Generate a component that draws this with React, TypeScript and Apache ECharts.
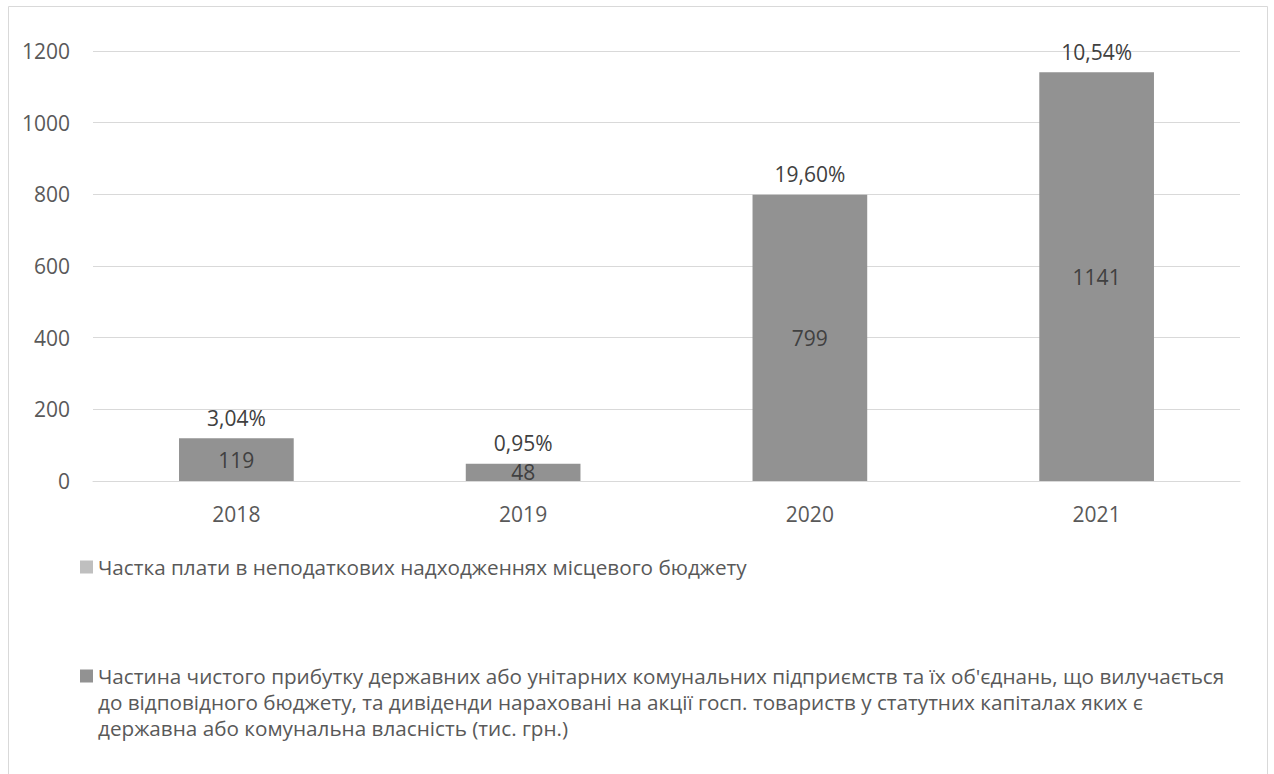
import React, { useEffect, useRef } from "react";
import * as echarts from "echarts";

const years = ["2018", "2019", "2020", "2021"];
const profitValues = [119, 48, 799, 1141];
const shareLabels = ["3,04%", "0,95%", "19,60%", "10,54%"];
const yTicks = { min: 0, max: 1200, interval: 200 };

const shareName = "Частка плати в неподаткових надходженнях місцевого бюджету";
const profitName =
  "Частина чистого прибутку державних або унітарних комунальних підприємств та їх об'єднань, що вилучається до відповідного бюджету, та дивіденди нараховані на акції госп. товариств у статутних капіталах яких є державна або комунальна власність (тис. грн.)";
const profitNameLines = [
  "Частина чистого прибутку державних або унітарних комунальних підприємств та їх об'єднань, що вилучається",
  "до відповідного бюджету, та дивіденди нараховані на акції госп. товариств у статутних капіталах яких є",
  "державна або комунальна власність (тис. грн.)",
];

const FONT = '"Open Sans", sans-serif';

export default function App() {
  const ref = useRef<HTMLDivElement>(null);
  useEffect(() => {
    if (!ref.current) return;
    const chart = echarts.init(ref.current, null, { renderer: "svg" });
    const legendText = {
      color: "#595959",
      fontSize: 20.7,
      fontFamily: FONT,
      lineHeight: 26,
    };
    chart.setOption({
      animation: false,
      backgroundColor: "#ffffff",
      textStyle: { fontFamily: FONT },
      graphic: [
        {
          type: "rect",
          shape: { x: 8.5, y: 6.5, width: 1259, height: 800 },
          style: { fill: "none", stroke: "#d9d9d9", lineWidth: 1 },
          silent: true,
        },
      ],
      grid: { left: 93, right: 34, top: 51, bottom: 293, containLabel: false },
      xAxis: {
        type: "category",
        data: years,
        axisLine: { show: true, lineStyle: { color: "#d9d9d9", width: 1 } },
        axisTick: { show: false },
        axisLabel: { color: "#595959", fontSize: 21, fontFamily: FONT, margin: 22 },
      },
      yAxis: {
        type: "value",
        min: yTicks.min,
        max: yTicks.max,
        interval: yTicks.interval,
        axisLine: { show: false },
        axisTick: { show: false },
        splitLine: { lineStyle: { color: "#d9d9d9", width: 1 } },
        axisLabel: {
          color: "#595959",
          fontSize: 21,
          fontFamily: FONT,
          margin: 23,
          formatter: (v: number) => String(v),
        },
      },
      legend: [
        {
          orient: "vertical",
          left: 80,
          top: 554,
          padding: 0,
          itemWidth: 13,
          itemHeight: 13,
          itemGap: 0,
          icon: "rect",
          data: [{ name: shareName, itemStyle: { color: "#bfbfbf", opacity: 1 } }],
          textStyle: legendText,
          selectedMode: false,
        },
        {
          orient: "vertical",
          left: 80,
          top: 663,
          padding: 0,
          itemWidth: 13,
          itemHeight: 78,
          itemGap: 0,
          symbolKeepAspect: false,
          icon: "path://M0,0L0,0M0,6.5L13,6.5L13,19.5L0,19.5ZM13,78L13,78",
          data: [{ name: profitName, itemStyle: { color: "#929292", opacity: 1 } }],
          formatter: () => profitNameLines.join("\n"),
          textStyle: legendText,
          selectedMode: false,
        },
      ],
      series: [
        {
          name: profitName,
          type: "bar",
          data: profitValues,
          barWidth: "40%",
          itemStyle: { color: "#929292" },
          label: {
            show: true,
            position: "inside",
            color: "#404040",
            fontSize: 21,
            fontFamily: FONT,
          },
        },
        {
          name: shareName,
          type: "bar",
          data: profitValues,
          barWidth: "40%",
          barGap: "-100%",
          itemStyle: { color: "rgba(191,191,191,0)" },
          label: {
            show: true,
            position: "top",
            distance: 10,
            color: "#404040",
            fontSize: 21,
            fontFamily: FONT,
            formatter: (p: any) => shareLabels[p.dataIndex],
          },
          silent: true,
        },
      ],
    });
    return () => chart.dispose();
  }, []);
  return (
    <div
      ref={ref}
      style={{ position: "absolute", left: 0, top: 0, width: 1274, height: 774 }}
    />
  );
}
